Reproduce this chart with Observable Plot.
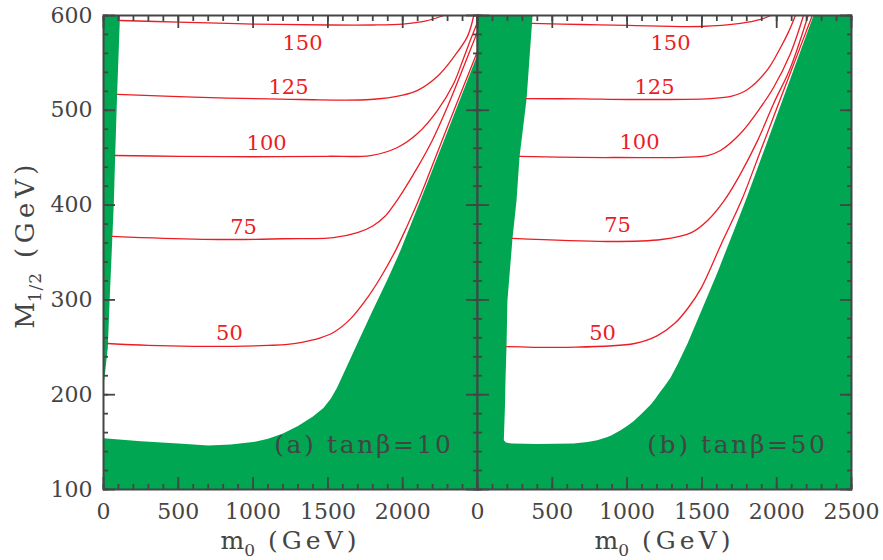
<!DOCTYPE html>
<html><head><meta charset="utf-8">
<script src="https://cdn.jsdelivr.net/npm/d3@7"></script>
<script src="https://cdn.jsdelivr.net/npm/@observablehq/plot@0.6"></script>
<style>
body{margin:0;background:#fff;}
#chart{position:relative;width:883px;height:560px;overflow:hidden;background:#fff;}
#chart svg{position:absolute;top:0;overflow:visible;max-width:none;background:transparent;}
</style></head><body><div id="chart"></div>
<script>
// ---- tick values / labels ----
const xMajorTicks = [0, 500, 1000, 1500, 2000, 2500];
const xLabelTicksA = [0, 500, 1000, 1500, 2000];
const xLabelTicksB = [0, 500, 1000, 1500, 2000, 2500];
const yMajorTicks = [100, 200, 300, 400, 500, 600];
const xMinorTicks = d3.range(0, 2501, 100);
const yMinorTicks = d3.range(100, 601, 20);
const contourLevels = [50, 75, 100, 125, 150];

// ---- panel (a) tanβ=10 : excluded (green) regions [m0, M1/2] ----
const greenA_strip = [[0,212],[7,218],[29,250],[40,296],[69,402],[78,452],[91,517],[109,595],[110,600],[0,600]];
const greenA_main = [[0,100],[0,154],[250,151],[500,148.5],[700,146.5],[850,147.5],[1000,150],[1100,153.5],[1200,159],[1300,167],[1400,177],[1470,186],[1520,196],[1560,207],[1604,222],[1700,255],[1800,289],[1900,322],[1985,352],[2119,405],[2300,478],[2493,556],[2500,556],[2500,100]];

// ---- panel (a) contours ----
const contourA50  = [[27,254],[300,252],[600,251],[870,251],[1100,252],[1230,253],[1317,255],[1450,260],[1537,265.6],[1651,280],[1765,302.5],[1852,323.6],[1952,352],[2030,378],[2106,405],[2300,483],[2500,562]];
const contourA75  = [[60,367],[400,365],[870,363.7],[1200,364.5],[1537,365.8],[1698,371],[1800,378],[1880,388],[1940,400],[2000,414],[2100,440],[2200,469],[2300,504],[2400,543],[2500,583]];
const contourA100 = [[76,452.3],[500,451.5],[1000,451],[1500,451.5],[1785,452.3],[1965,460.8],[2099,475.5],[2233,500],[2340,528],[2400,552],[2450,573],[2500,593]];
const contourA125 = [[94,516.7],[600,514],[1317,511.4],[1785,511.4],[2000,516],[2099,521],[2233,536],[2340,556],[2433,578],[2475,600]];
const contourA150 = [[109,594.7],[500,593],[1000,591],[1500,590],[1800,590],[2000,591],[2150,594],[2273,600]];
const labelPosA = [[842,264.6],[936,377],[1090,465],[1237,524],[1330,570.5]];

// ---- panel (b) tanβ=50 : excluded (green) region ----
const greenB = [[0,100],[2500,100],[2500,600],[2246,600],[1800,408],[1711,372],[1604,329],[1500,290],[1404,254],[1340,233],[1290,218],[1250,209],[1223,203.5],[1190,196],[1160,190],[1100,180.5],[1043,172],[1000,167],[956,162.5],[900,157.5],[869,155.5],[800,152],[735,150],[642,148.5],[400,148],[230,148.5],[190,149.5],[176,152],[178,162],[184,190],[187,215],[194,251],[200,299],[234,365],[261,405],[281,451],[328,512],[368,600],[0,600]];

// ---- panel (b) contours ----
const contourB50  = [[194,250.8],[600,250],[1050,254],[1200,262],[1317,275],[1410,292],[1497,313],[1631,359.5],[1765,405],[1900,460.6],[2000,501.8],[2100,543],[2238,600]];
const contourB75  = [[234,364.8],[869,361.6],[1230,363.7],[1430,371],[1538,383.8],[1650,405],[1758,433],[1872,468],[1979,507],[2092,545],[2210,600]];
const contourB100 = [[281,451.3],[909,450.2],[1538,452.3],[1624,457.6],[1758,475.5],[1892,503],[1979,524],[2092,560],[2179,600]];
const contourB125 = [[328,512.4],[700,512],[1023,511.4],[1558,512.4],[1700,515],[1805,522],[1939,543],[2025,566],[2080,583],[2125,600]];
const contourB150 = [[368,591.6],[700,590.5],[1003,589.5],[1491,588.4],[1758,591.6],[1892,595.8],[1959,600]];
const labelPosB = [[836,264.6],[936,378.5],[1083,466],[1183,524],[1290,570.5]];

const GREEN = "#00a651", RED = "#ed1c24", AX = "#454545", FONT = "DejaVu Serif";

function tickMarks() {
  const o = {fill: "none", label: null, stroke: AX, strokeWidth: 1.8};
  return [
    Plot.axisX({...o, anchor: "bottom", ticks: xMinorTicks, tickSize: -5}),
    Plot.axisX({...o, anchor: "bottom", ticks: xMajorTicks, tickSize: -12}),
    Plot.axisX({...o, anchor: "top", ticks: xMinorTicks, tickSize: -5}),
    Plot.axisX({...o, anchor: "top", ticks: xMajorTicks, tickSize: -12}),
    Plot.axisY({...o, anchor: "left", ticks: yMinorTicks, tickSize: -5}),
    Plot.axisY({...o, anchor: "left", ticks: yMajorTicks, tickSize: -12}),
    Plot.axisY({...o, anchor: "right", ticks: yMinorTicks, tickSize: -5}),
    Plot.axisY({...o, anchor: "right", ticks: yMajorTicks, tickSize: -12})
  ];
}

function panel({width, marginLeft, marginRight, greens, contours, labelPos, tag, xLabels, yLabels}) {
  const labels = contourLevels.map((v, i) => ({level: v, m0: labelPos[i][0], M: labelPos[i][1]}));
  return Plot.plot({
    width, height: 560, marginTop: 15, marginBottom: 71, marginLeft, marginRight,
    x: {domain: [0, 2500]}, y: {domain: [100, 600]},
    style: {fontFamily: FONT, fontSize: "22px", color: AX, background: "transparent", overflow: "visible"},
    marks: [
      ...greens.map(g => Plot.line(g, {x: d => d[0], y: d => d[1], fill: GREEN, stroke: "none", curve: "linear-closed"})),
      ...contours.map(c => Plot.line(c, {x: d => d[0], y: d => d[1], stroke: RED, strokeWidth: 1.3, curve: "catmull-rom"})),
      Plot.text(labels, {x: "m0", y: "M", text: d => String(d.level), fill: RED, fontSize: 21}),
      Plot.text([tag], {frameAnchor: "bottom-right", dx: -24, dy: -37, textAnchor: "end", fill: "#444", fontSize: 25}),
      Plot.axisX({anchor: "bottom", ticks: xLabels, tickFormat: d => `${d}`, tickSize: 0, tickPadding: 14, label: null, fill: AX, fontSize: 22}),
      ...(yLabels ? [Plot.axisY({anchor: "left", ticks: yMajorTicks, tickFormat: d => `${d}`, tickSize: 0, tickPadding: 11, label: null, fill: AX, fontSize: 22})] : []),
      ...tickMarks(),
      Plot.frame({stroke: AX, strokeWidth: 2}),
      Plot.text(["m0 (GeV)"], {frameAnchor: "bottom", dy: 59, textAnchor: "middle", fill: AX, fontSize: 25}),
      ...(yLabels ? [Plot.text(["M1/2 (GeV)"], {frameAnchor: "left", dx: -78, dy: -8, rotate: -90, textAnchor: "middle", fill: AX, fontSize: 26})] : [])
    ]
  });
}

const chart = document.getElementById("chart");
const svgA = panel({width: 477, marginLeft: 103, marginRight: 0, greens: [greenA_strip, greenA_main],
  contours: [contourA50, contourA75, contourA100, contourA125, contourA150], labelPos: labelPosA,
  tag: "(a) tanβ=10", xLabels: xLabelTicksA, yLabels: true});
const svgB = panel({width: 406, marginLeft: 0, marginRight: 32, greens: [greenB],
  contours: [contourB50, contourB75, contourB100, contourB125, contourB150], labelPos: labelPosB,
  tag: "(b) tanβ=50", xLabels: xLabelTicksB, yLabels: false});
svgA.style.left = "0px";
svgB.style.left = "477px";
chart.appendChild(svgA);
chart.appendChild(svgB);

// subscripts in axis titles, letter spacing
const NS = "http://www.w3.org/2000/svg";
function subscript(svg, full, main, sub, rest, spacing, gap) {
  svg.querySelectorAll("text").forEach(t => {
    if (t.textContent === full) {
      t.textContent = "";
      const a = document.createElementNS(NS, "tspan"); a.textContent = main;
      a.setAttribute("letter-spacing", "0"); t.appendChild(a);
      const b = document.createElementNS(NS, "tspan"); b.textContent = sub;
      b.setAttribute("dy", "7"); b.setAttribute("font-size", "17"); b.setAttribute("letter-spacing", "1"); t.appendChild(b);
      const c = document.createElementNS(NS, "tspan"); c.textContent = rest;
      c.setAttribute("dy", "-7"); c.setAttribute("dx", gap); c.setAttribute("letter-spacing", spacing); t.appendChild(c);
    }
  });
}
function spaced(svg, full, spacing) {
  svg.querySelectorAll("text").forEach(t => { if (t.textContent === full) t.setAttribute("letter-spacing", spacing); });
}
subscript(svgA, "m0 (GeV)", "m", "0", "(GeV)", "4", "12");
subscript(svgB, "m0 (GeV)", "m", "0", "(GeV)", "4", "12");
subscript(svgA, "M1/2 (GeV)", "M", "1/2", "(GeV)", "4.5", "14");
spaced(svgA, "(a) tanβ=10", "2.6");
spaced(svgB, "(b) tanβ=50", "2.6");
</script></body></html>
